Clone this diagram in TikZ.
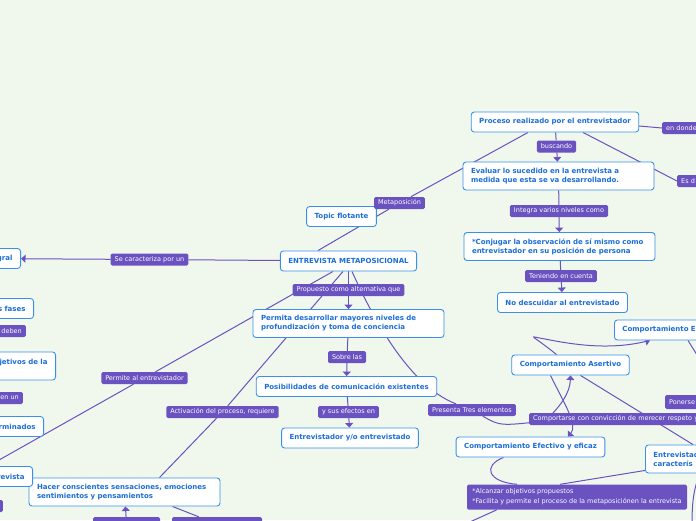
\documentclass[tikz,border=0pt]{standalone}
\usepackage{fontspec}
\setmainfont{DejaVu Sans}
\usetikzlibrary{arrows.meta}
\definecolor{mapbg}{HTML}{F0F8ED}
\definecolor{topicblue}{HTML}{3A90E8}
\definecolor{topictext}{HTML}{1B6ED6}
\definecolor{lblpurple}{HTML}{6A52C0}
\pgfdeclarelayer{bg}
\pgfdeclarelayer{edges}
\pgfsetlayers{bg,edges,main}

\begin{document}
\begin{tikzpicture}[x=1pt,y=-1pt]
	\tikzstyle{topic}=[draw=topicblue,fill=white,line width=0.9pt,rounded corners=3pt,inner xsep=8pt,inner ysep=2pt,minimum height=20pt,text=topictext,font=\fontsize{7}{9}\selectfont\bfseries]
	\tikzstyle{topic2}=[topic,align=left,text width=175pt,minimum height=28pt]
	\tikzstyle{lbl}=[fill=lblpurple,rounded corners=1.5pt,inner xsep=4pt,inner ysep=1pt,minimum height=12pt,text=white,font=\fontsize{6.5}{8}\selectfont]
	\tikzstyle{cutleft}=[anchor=east,text width=70pt,align=right]
	\tikzstyle{cutright}=[anchor=west,text width=150pt,align=left]
	\tikzstyle{link}=[draw=lblpurple,line width=1pt]
	\tikzstyle{arr}=[link,-{Triangle[length=4.5pt,width=8pt]}]
	\def \midcol{348.5}

	\useasboundingbox (0,0) rectangle (696,520);
	\begin{pgfonlayer}{bg}
		\fill[mapbg] (0,0) rectangle (696,520);
	\end{pgfonlayer}

	% central column
	\node[topic] 	(topic)		at (341.5,216.5)	{Topic flotante};
	\node[topic] 	(entrevista)	at (\midcol,261)	{ENTREVISTA METAPOSICIONAL};
	\node[topic2] 	(permita)	at (\midcol,323.5)	{Permita desarrollar mayores niveles de\\profundización y toma de conciencia};
	\node[topic] 	(posib)		at (346.5,386.5)	{Posibilidades de comunicación existentes};
	\node[topic] 	(entrevistador)	at (350,438)		{Entrevistador y/o entrevistado};
	\node[topic2] 	(hacer)		at (124.5,492)		{Hacer conscientes sensaciones, emociones\\sentimientos y pensamientos};

	% right branch
	\node[topic] 	(proceso)	at (555,122)		{Proceso realizado por el entrevistador};
	\node[topic2] 	(evaluar)	at (558.5,176)		{Evaluar lo sucedido en la entrevista a\\medida que esta se va desarrollando.};
	\node[topic2] 	(conjugar)	at (559.5,246.5)	{*Conjugar la observación de sí mismo como\\entrevistador en su posición de persona};
	\node[topic] 	(descuidar)	at (562.5,302.5)	{No descuidar al entrevistado};
	\node[topic] 	(asertivo)	at (570.5,365)		{Comportamiento Asertivo};
	\node[topic] 	(efectivo)	at (530.5,447)		{Comportamiento Efectivo y eficaz};
	\node[topic,cutright] 	(compE)	at (614,330)		{Comportamiento E};
	\node[topic,cutright,minimum height=28pt] 	(entrevistad)	at (645,459)	{Entrevistad\\caracterís};

	% left border
	\node[topic,cutleft] 	(gral)		at (21,258.5)	{gral};
	\node[topic,cutleft] 	(fases)		at (34,308.5)	{s fases};
	\node[topic,cutleft,minimum height=28pt] 	(objetivos)	at (56,366)	{jetivos de la\\\mbox{}};
	\node[topic,cutleft] 	(terminados)	at (44,426.5)	{rminados};
	\node[topic,cutleft] 	(revista)	at (33,476.5)	{revista};

	% labels
	\node[lbl,cutright,text width=40pt] 	(endonde)	at (662,128)	{en donde};
	\node[lbl] 	(buscando)	at (556.5,146.5)	{buscando};
	\node[lbl,cutright,text width=40pt] 	(esd)		at (677,181)	{Es d};
	\node[lbl] 	(metapos)	at (399.5,203)		{Metaposición};
	\node[lbl] 	(integra)	at (559,211)		{Integra varios niveles como};
	\node[lbl] 	(teniendo)	at (561,276)		{Teniendo en cuenta};
	\node[lbl] 	(secaract)	at (149.5,259.5)	{Se caracteriza por un};
	\node[lbl] 	(propuesto)	at (\midcol,290)	{Propuesto como alternativa que};
	\node[lbl,cutleft,text width=40pt] 	(deben)		at (26,331)	{deben};
	\node[lbl] 	(permite)	at (144.5,378)		{Permite al entrevistador};
	\node[lbl] 	(sobre)		at (347,357)		{Sobre las};
	\node[lbl,cutleft,text width=40pt] 	(enun)		at (23,398)	{en un};
	\node[lbl] 	(activacion)	at (222.5,412)		{Activación del proceso, requiere};
	\node[lbl] 	(efectos)	at (\midcol,412)	{y sus efectos en};
	\node[lbl] 	(presenta)	at (472,410)		{Presenta Tres elementos};
	\node[lbl,cutright,text width=200pt] 	(comportarse)	at (529,419)	{Comportarse con convicción de merecer respeto y};
	\node[lbl,cutright,text width=40pt,minimum height=14pt] 	(ponerse)	at (665,402)	{Ponerse};
	\node[lbl,align=left,inner xsep=5pt,minimum width=220pt,minimum height=25pt,font=\fontsize{6.5}{10}\selectfont] 	(alcanzar)	at (577,497)	{*Alcanzar objetivos propuestos\\{}*Facilita y permite el proceso de la metaposiciónen la entrevista};
	\node[lbl,cutleft,text width=10pt] 	(cutlbl)	at (3,506)	{};
	\node[lbl,minimum width=67pt,minimum height=14pt] 	(bota)	at (126.5,524)	{};
	\node[lbl,minimum width=90pt,minimum height=14pt] 	(botb)	at (217,524)	{};

	% free ends
	\coordinate (permite-end) at (-40,482);
	\coordinate (hub) at (545,421);
	\coordinate (ponerse-in) at (722,395);
	\coordinate (entr-out) at (692,525);
	\coordinate (alc-out) at (450,531);

	\begin{pgfonlayer}{edges}
		% right branch
		\draw[link] (proceso) -- (buscando);
		\draw[arr] (buscando) -- (evaluar);
		\draw[link] (evaluar) -- (integra);
		\draw[arr] (integra) -- (conjugar);
		\draw[link] (conjugar) -- (teniendo);
		\draw[arr] (teniendo) -- (descuidar);
		\draw[link] ([yshift=-4pt]proceso.east) -- (endonde.west);
		\draw[link] ([xshift=28pt]proceso.south) -- (esd.west);
		\draw[link] ([xshift=-30.5pt]entrevista.north) -- (metapos) -- ([xshift=-27pt]proceso.south);
		% central column
		\draw[link] (entrevista) -- (secaract);
		\draw[arr] (secaract) -- (gral);
		\draw[link] (entrevista) -- (propuesto);
		\draw[arr] (propuesto) -- (permita);
		\draw[link] (permita) -- (sobre);
		\draw[arr] (sobre) -- (posib);
		\draw[link] (posib) -- (efectos);
		\draw[arr] (efectos) -- (entrevistador);
		\draw[link] ([xshift=-15.5pt]entrevista.south) -- (permite) -- (permite-end);
		\draw[link] ([xshift=-5.5pt]entrevista.south) -- (activacion) -- ([xshift=35pt]hacer.north);
		\draw[arr] (bota) -- (hacer);
		\draw[link] ([xshift=48pt]hacer.south) -- (botb);
		% three behaviours
		\draw[link] ([xshift=3.5pt]entrevista.south) .. controls (385,345) and (420,390) .. (presenta);
		\draw[link] (presenta) .. controls (500,426) .. (hub);
		\draw[arr] (hub) .. controls (562,405) and (570,392) .. (asertivo.south);
		\draw[arr] ([xshift=-20pt]asertivo.south) .. controls (565,405) and (578,425) .. ([xshift=37.5pt]efectivo.north);
		\draw[arr] ([xshift=-14pt]asertivo.north) .. controls (530,333) and (527,336) .. (545,339) .. controls (575,345) and (610,350) .. ([xshift=36pt]compE.south west);
		\draw[link] ([xshift=10pt]asertivo.south) -- ([xshift=48pt]entrevistad.north west);
		\draw[link] ([xshift=74pt]compE.south west) -- (ponerse-in);
		\draw[link] ([xshift=-27pt]efectivo.south) .. controls (482,466) and (488,482) .. ([xshift=-60pt]alcanzar.north);
		\draw[link] ([yshift=3pt]entrevistad.south west) -- ([xshift=-17pt]alcanzar.north);
		\draw[link] ([xshift=-80pt]alcanzar.south) -- (alc-out);
		\draw[link] ([xshift=55pt]entrevistad.south west) .. controls (693,490) and (692,505) .. (entr-out);
	\end{pgfonlayer}
\end{tikzpicture}
\end{document}
